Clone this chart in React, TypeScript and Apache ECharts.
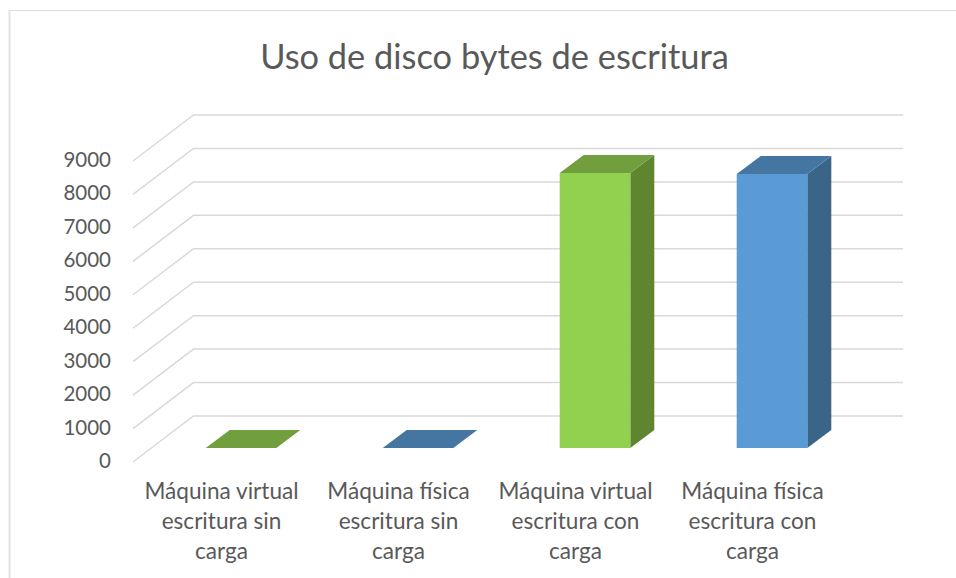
import React, { useEffect, useRef } from "react";
import * as echarts from "echarts";

const titleText = "Uso de disco bytes de escritura";
const categories = [
  "Máquina virtual\nescritura sin\ncarga",
  "Máquina física\nescritura sin\ncarga",
  "Máquina virtual\nescritura con\ncarga",
  "Máquina física\nescritura con\ncarga",
];
const values = [0, 0, 8225, 8195];
const gridTicks = [0, 1000, 2000, 3000, 4000, 5000, 6000, 7000, 8000, 9000];
const frontColors = ["#92D050", "#5B9BD5", "#92D050", "#5B9BD5"];
const topColors = ["#719F3E", "#4576A2", "#719F3E", "#4576A2"];
const sideColors = ["#5F8531", "#3A6488", "#5F8531", "#3A6488"];

const FONT = "Lato";
const TEXT = "#595959";
const GRID = "#D9D9D9";
// oblique projection of the 3D chart
const WALL_DX = 60.5;
const WALL_DY = -46;
const BAR_DX = 24;
const BAR_DY = -18;
const BAR_OFFSET_X = 19.5;
const BAR_OFFSET_Y = -14;
const BAR_WIDTH = 70.6;

export default function App() {
  const ref = useRef<HTMLDivElement>(null);
  useEffect(() => {
    const chart = echarts.init(ref.current!, null, { renderer: "svg" });
    chart.setOption({
      animation: false,
      backgroundColor: "#FFFFFF",
      title: {
        text: titleText,
        left: 489.5,
        top: 33,
        textAlign: "center",
        textStyle: { fontFamily: FONT, fontSize: 34.4, fontWeight: "normal", color: TEXT },
      },
      grid: { left: 133, top: 161, width: 708, height: 301, containLabel: false },
      xAxis: {
        type: "category",
        data: categories,
        axisLine: { show: false },
        axisTick: { show: false },
        axisLabel: {
          interval: 0,
          margin: 13,
          fontFamily: FONT,
          fontSize: 22.6,
          lineHeight: 30,
          color: TEXT,
        },
      },
      yAxis: {
        type: "value",
        min: 0,
        max: 9000,
        interval: 1000,
        axisLine: { show: false },
        axisTick: { show: false },
        splitLine: { show: false },
        axisLabel: {
          margin: 22,
          fontFamily: FONT,
          fontSize: 20.5,
          color: TEXT,
          verticalAlign: "bottom",
          lineHeight: 4,
          formatter: (v: number) => String(v),
        },
      },
      graphic: [
        { type: "line", shape: { x1: 9.5, y1: 10.5, x2: 956, y2: 10.5 }, style: { stroke: "#DEDEDE", lineWidth: 1 } },
        { type: "line", shape: { x1: 9.5, y1: 10, x2: 9.5, y2: 578 }, style: { stroke: "#E3E3E3", lineWidth: 2 } },
      ],
      series: [
        {
          type: "custom",
          name: "walls",
          silent: true,
          clip: false,
          z: 1,
          data: gridTicks.map((t) => [0, t]),
          encode: { x: 0, y: 1 },
          renderItem: (params: any, api: any) => {
            const y = api.coord([0, api.value(1)])[1];
            const x0 = params.coordSys.x;
            const x1 = x0 + params.coordSys.width;
            return {
              type: "polyline",
              shape: {
                points: [
                  [x0, y],
                  [x0 + WALL_DX, y + WALL_DY],
                  [x1 + WALL_DX + 1.5, y + WALL_DY],
                ],
              },
              style: { fill: "none", stroke: GRID, lineWidth: 1.5 },
            };
          },
        },
        {
          type: "custom",
          name: "Uso de disco",
          clip: false,
          z: 2,
          data: values.map((v, i) => [i, v]),
          encode: { x: 0, y: 1 },
          renderItem: (params: any, api: any) => {
            const i = api.value(0);
            const base = api.coord([i, 0]);
            const top = api.coord([i, api.value(1)]);
            const l = base[0] + BAR_OFFSET_X - BAR_WIDTH / 2;
            const r = l + BAR_WIDTH;
            const b = base[1] + BAR_OFFSET_Y;
            const t = top[1] + BAR_OFFSET_Y;
            const children: any[] = [];
            if (b - t > 0.5) {
              children.push({
                type: "polygon",
                shape: { points: [[r, t], [r + BAR_DX, t + BAR_DY], [r + BAR_DX, b + BAR_DY], [r, b]] },
                style: { fill: sideColors[i] },
              });
              children.push({
                type: "polygon",
                shape: { points: [[l, t], [r, t], [r, b], [l, b]] },
                style: { fill: frontColors[i] },
              });
            }
            children.push({
              type: "polygon",
              shape: { points: [[l, t], [l + BAR_DX, t + BAR_DY], [r + BAR_DX, t + BAR_DY], [r, t]] },
              style: { fill: topColors[i] },
            });
            return { type: "group", children };
          },
        },
      ],
    });
    return () => chart.dispose();
  }, []);
  return (
    <div
      ref={ref}
      style={{ position: "absolute", left: 0, top: 0, width: 956, height: 578 }}
    />
  );
}
